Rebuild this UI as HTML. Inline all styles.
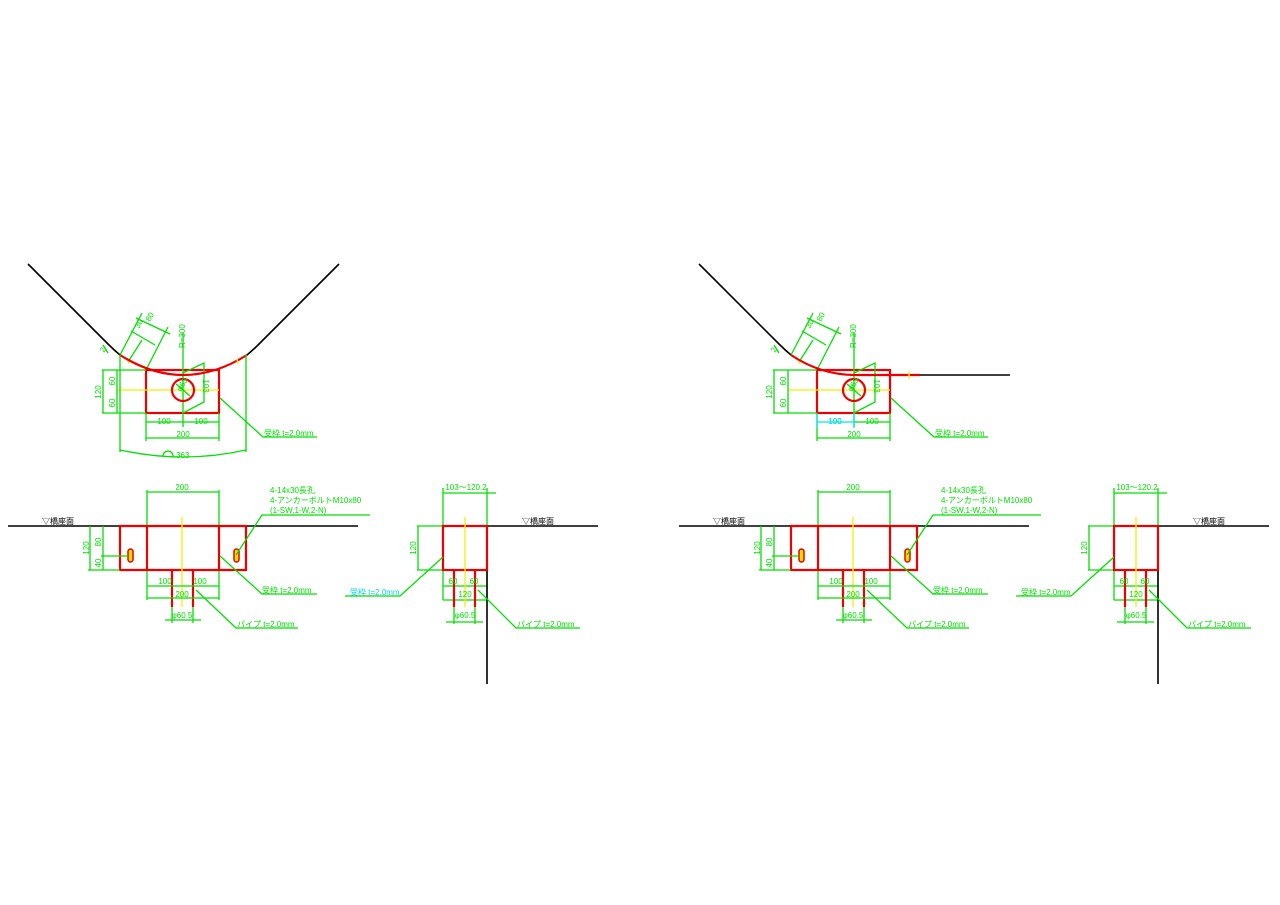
<!DOCTYPE html>
<html><head><meta charset="utf-8"><style>
html,body{margin:0;padding:0;background:#fff;width:1280px;height:905px;overflow:hidden}
svg{display:block}
text{font-family:"Liberation Sans","Noto Sans CJK JP",sans-serif;font-size:8px;fill:#00e000}
.g{stroke:#00e000;stroke-width:1.3;fill:none}
.r{stroke:#ee0000;stroke-width:2.2;fill:none}
.y{stroke:#f0f000;stroke-width:1.3;fill:none}
.k{stroke:#000;stroke-width:1.6;fill:none}
.c{stroke:#00e8f0;stroke-width:1.3;fill:none}
</style></head><body>
<svg width="1280" height="905" viewBox="0 0 1280 905" xmlns="http://www.w3.org/2000/svg">
<defs>
<g id="topc">
  <path class="k" d="M28,264 L108,344 Q114,350 120,355"/>
  <!-- angled dims -->
  <path class="g" d="M120,355 L142,313 M146,370 L168,327 M136,318 L170,334 M131,331 L155,345 M142,340 L128,362 M103,345 L108,353"/>
  <text x="150" y="322" transform="rotate(-62 150 322)">80</text>
  <text x="139" y="329" transform="rotate(-62 139 329)">30</text>
  <text x="104" y="353" transform="rotate(-62 104 353)">2</text>
  <!-- rect & circle -->
  <rect class="r" x="146" y="370" width="73" height="43"/>
  <path class="y" d="M117,390 L219,390 M183,370 L183,413 M128,360 L129,364"/>
  <path class="g" d="M183,333 L183,427 M183,373 L204,363 L204,402 L183,413 M176,384 L190,396"/>
  <circle class="r" cx="183" cy="390" r="11"/>
  <text x="185" y="348" transform="rotate(-90 185 348)">R=300</text>
  <text x="203" y="386" transform="rotate(90 203 386)" text-anchor="middle">103</text>
  <text x="181" y="392" transform="rotate(-60 181 392)" font-size="6">φ63</text>
  <!-- left dims -->
  <path class="g" d="M102,370 L146,370 M102,413 L146,413 M103,370 L103,413 M117,370 L117,413"/>
  <text x="101" y="392" transform="rotate(-90 101 392)" text-anchor="middle">120</text>
  <text x="115" y="381" transform="rotate(-90 115 381)" text-anchor="middle">60</text>
  <text x="115" y="403" transform="rotate(-90 115 403)" text-anchor="middle">60</text>
  <!-- bottom dims -->
  <path class="g" d="M183,422 L219,422 M146,438 L219,438 M146,413 L146,441 M219,413 L219,441"/>
  <text x="164" y="424" text-anchor="middle">100</text>
  <text x="201" y="424" text-anchor="middle">100</text>
  <text x="183" y="437" text-anchor="middle">200</text>
  <path class="g" d="M220,398 L263,437 L317,437"/>
  <text x="264" y="436">受枠 t=2.0mm</text>
</g>
<g id="bot">
  <path class="k" d="M8,526 L120,526 M246,526 L358,526"/>
  <text x="42" y="524" fill="#000" style="fill:#000">▽橋座面</text>
  <path class="g" d="M147,492 L219,492 M147,490 L147,600 M219,490 L219,600"/>
  <text x="182" y="490" text-anchor="middle">200</text>
  <path class="r" d="M120,526 L246,526 L246,570 L120,570 Z M147,526 L147,570 M219,526 L219,570 M172,570 L172,607 M193,570 L193,607"/>
  <path class="y" d="M182,517 L182,607"/>
  <rect x="128" y="549" width="5" height="13" rx="2.5" style="fill:#f0e000;stroke:#ee0000;stroke-width:1.5"/>
  <rect x="234" y="549" width="5" height="13" rx="2.5" style="fill:#f0e000;stroke:#ee0000;stroke-width:1.5"/>
  <path class="g" d="M90,526 L90,570 M103,526 L103,570 M88,570 L120,570 M101,556 L128,556 M147,586 L219,586 M147,598 L219,598 M165,620 L201,620 M172,607 L172,623 M193,607 L193,623"/>
  <text x="89" y="548" transform="rotate(-90 89 548)" text-anchor="middle">120</text>
  <text x="101" y="542" transform="rotate(-90 101 542)" text-anchor="middle">80</text>
  <text x="101" y="563" transform="rotate(-90 101 563)" text-anchor="middle">40</text>
  <text x="165" y="584" text-anchor="middle">100</text>
  <text x="200" y="584" text-anchor="middle">100</text>
  <text x="182" y="597" text-anchor="middle">200</text>
  <text x="182" y="618" text-anchor="middle">φ60.5</text>
  <path class="g" d="M236,555 L262,515 L370,515 M220,556 L262,594 L317,594 M196,590 L236,628 L298,628"/>
  <text x="270" y="493">4-14x30長孔</text>
  <text x="270" y="503">4-アンカーボルトM10x80</text>
  <text x="270" y="513">(1-SW,1-W,2-N)</text>
  <text x="262" y="593">受枠 t=2.0mm</text>
  <text x="237" y="627">パイプ t=2.0mm</text>
  <!-- section -->
  <path class="g" d="M443,493 L496,493 M443,488 L443,600 M487,488 L487,600 M418,526 L418,570 M417,526 L443,526 M417,570 L443,570 M443,586 L487,586 M443,600 L487,600 M446,622 L483,622 M454,607 L454,624 M475,607 L475,624"/>
  <text x="466" y="490" text-anchor="middle">103～120.2</text>
  <path class="k" d="M487,526 L598,526 M487,570 L487,684"/>
  <text x="522" y="524" style="fill:#000">▽橋座面</text>
  <rect class="r" x="443" y="526" width="44" height="44"/>
  <path class="r" d="M454,570 L454,607 M475,570 L475,607"/>
  <path class="y" d="M465,517 L465,607"/>
  <text x="416" y="548" transform="rotate(-90 416 548)" text-anchor="middle">120</text>
  <text x="453" y="584" text-anchor="middle">60</text>
  <text x="474" y="584" text-anchor="middle">60</text>
  <text x="465" y="597" text-anchor="middle">120</text>
  <text x="465" y="618" text-anchor="middle">φ60.5</text>
  <path class="g" d="M443,557 L400,596 L345,596 M478,590 L516,628 L580,628"/>
  <text x="517" y="627">パイプ t=2.0mm</text>
</g>
</defs>

<!-- LEFT -->
<use href="#topc"/>
<path class="g" d="M146,422 L183,422"/>
<path class="r" d="M120,355 Q183,395 247,355"/>
<path class="k" d="M247,355 Q253,350 258,345 L339,264"/>
<path class="y" d="M237,359 L238,364"/>
<path class="g" d="M120,355 L120,452 M246,355 L246,452 M120,450 Q183,464 246,450"/>
<path class="g" d="M163,456 A5,5 0 0 1 173,456"/>
<text x="176" y="458">363</text>
<use href="#bot"/>
<text x="350" y="595" style="fill:#00d8f0">受枠 t=2.0mm</text>

<!-- RIGHT -->
<g transform="translate(671,0)">
<use href="#topc"/>
<path class="c" d="M146,422 L183,422 M146,413 L146,428 M183,413 L183,428"/>
<text x="164" y="424" style="fill:#00d8f0" text-anchor="middle">100</text>
<path class="r" d="M120,355 Q150,375 184,375 L249,375"/>
<path class="k" d="M249,375 L339,375"/>
<path class="y" d="M238,371 L238,379"/>
<use href="#bot"/>
<text x="350" y="595">受枠 t=2.0mm</text>
</g>
</svg>
</body></html>
